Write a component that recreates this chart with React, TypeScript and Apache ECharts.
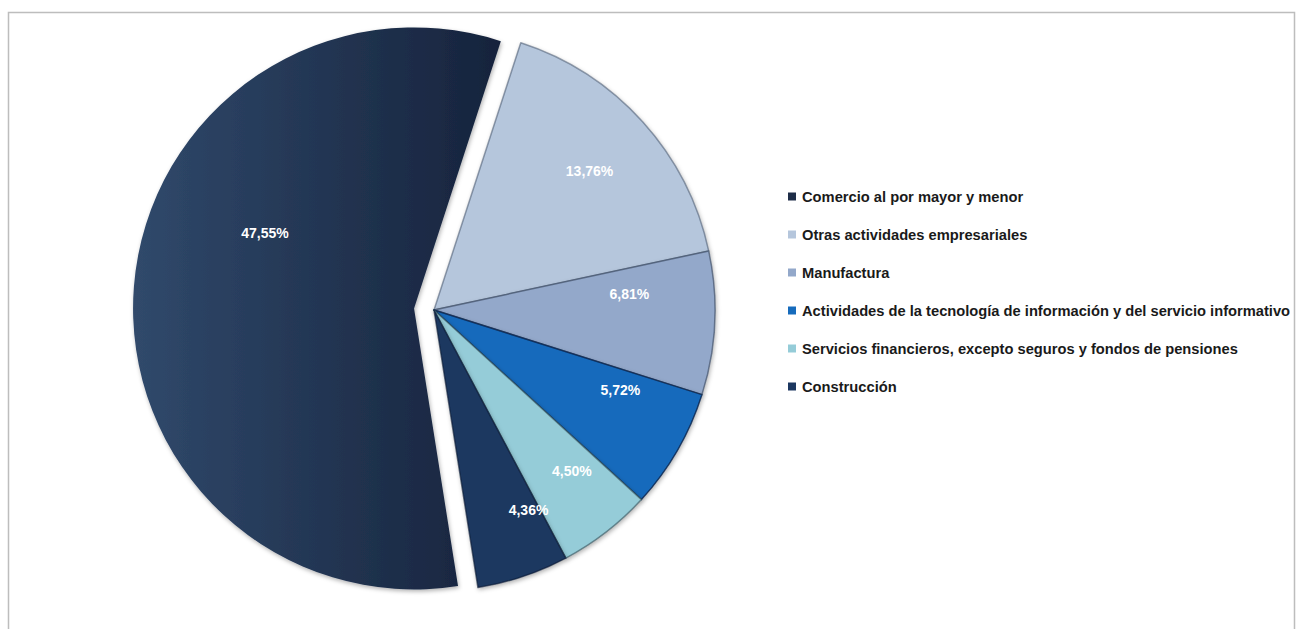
import React, { useEffect, useRef } from "react";
import * as echarts from "echarts";

const categories = [
  "Comercio al por mayor y menor",
  "Otras actividades empresariales",
  "Manufactura",
  "Actividades de la tecnología de información y del servicio informativo",
  "Servicios financieros, excepto seguros y fondos de pensiones",
  "Construcción",
];
const values = [47.55, 13.76, 6.81, 5.72, 4.5, 4.36];

const sliceColors: any[] = [
  new echarts.graphic.LinearGradient(0, 0, 1, 0, [
    { offset: 0, color: "#30496B" },
    { offset: 1, color: "#16233C" },
  ]),
  "#B5C6DC",
  "#93A8CA",
  "#166BBC",
  "#95CCD8",
  "#1C3760",
];
const legendColors = ["#1E2D48", "#B5C6DC", "#93A8CA", "#166BBC", "#95CCD8", "#1C3760"];
const sliceBorders = [
  "rgba(0,0,0,0)",
  "rgba(70,85,110,0.55)",
  "rgba(60,75,100,0.65)",
  "rgba(10,35,75,0.8)",
  "rgba(50,80,90,0.6)",
  "rgba(10,25,50,0.6)",
];
const labelOffsets = [
  [-6, -64],
  [49, -43],
  [52, -23],
  [62, 8],
  [50, 48],
  [49, 64],
];

export default function App() {
  const ref = useRef<HTMLDivElement>(null);
  useEffect(() => {
    const chart = echarts.init(ref.current!, null, { renderer: "svg" });
    const data = categories.map((name, i) => ({
      name,
      value: values[i],
      selected: i === 0,
      itemStyle: {
        color: sliceColors[i],
        borderColor: sliceBorders[i],
        borderWidth: i === 0 ? 0 : 1.5,
      },
      label: { offset: labelOffsets[i] },
      select: { label: { offset: labelOffsets[i] } },
    }));
    chart.setOption({
      animation: false,
      backgroundColor: "#ffffff",
      color: legendColors,
      graphic: [
        {
          type: "rect",
          z: -10,
          shape: { x: 8.5, y: 12.5, width: 1286, height: 640 },
          style: { fill: "none", stroke: "#BDBDBD", lineWidth: 1.5 },
          silent: true,
        },
      ],
      legend: {
        orient: "vertical",
        left: 783,
        top: 184,
        itemWidth: 8,
        itemHeight: 8,
        itemGap: 23,
        icon: "rect",
        selectedMode: false,
        data: categories.map((name, i) => ({
          name,
          itemStyle: { color: legendColors[i], borderWidth: 0 },
        })),
        textStyle: {
          fontFamily: "Liberation Sans, Arial, sans-serif",
          fontWeight: "bold",
          fontSize: 14.7,
          lineHeight: 15,
          color: "#1A1A1A",
          padding: [0, 0, 0, 1],
        },
      },
      series: [
        {
          type: "pie",
          center: [434, 310],
          radius: [0, 281],
          startAngle: 279,
          clockwise: true,
          selectedMode: "multiple",
          selectedOffset: 20,
          avoidLabelOverlap: false,
          silent: true,
          itemStyle: {
            shadowColor: "rgba(0,0,0,0.3)",
            shadowBlur: 4,
            shadowOffsetX: 1,
            shadowOffsetY: 2,
          },
          label: {
            show: true,
            position: "inside",
            color: "#FFFFFF",
            fontFamily: "Liberation Sans, Arial, sans-serif",
            fontWeight: "bold",
            fontSize: 14,
            formatter: (p: any) => p.value.toFixed(2).replace(".", ",") + "%",
          },
          labelLine: { show: false },
          data,
        },
      ],
    });
    return () => chart.dispose();
  }, []);
  return (
    <div
      ref={ref}
      style={{ position: "fixed", left: 0, top: 0, width: 1296, height: 629, background: "#fff" }}
    />
  );
}
